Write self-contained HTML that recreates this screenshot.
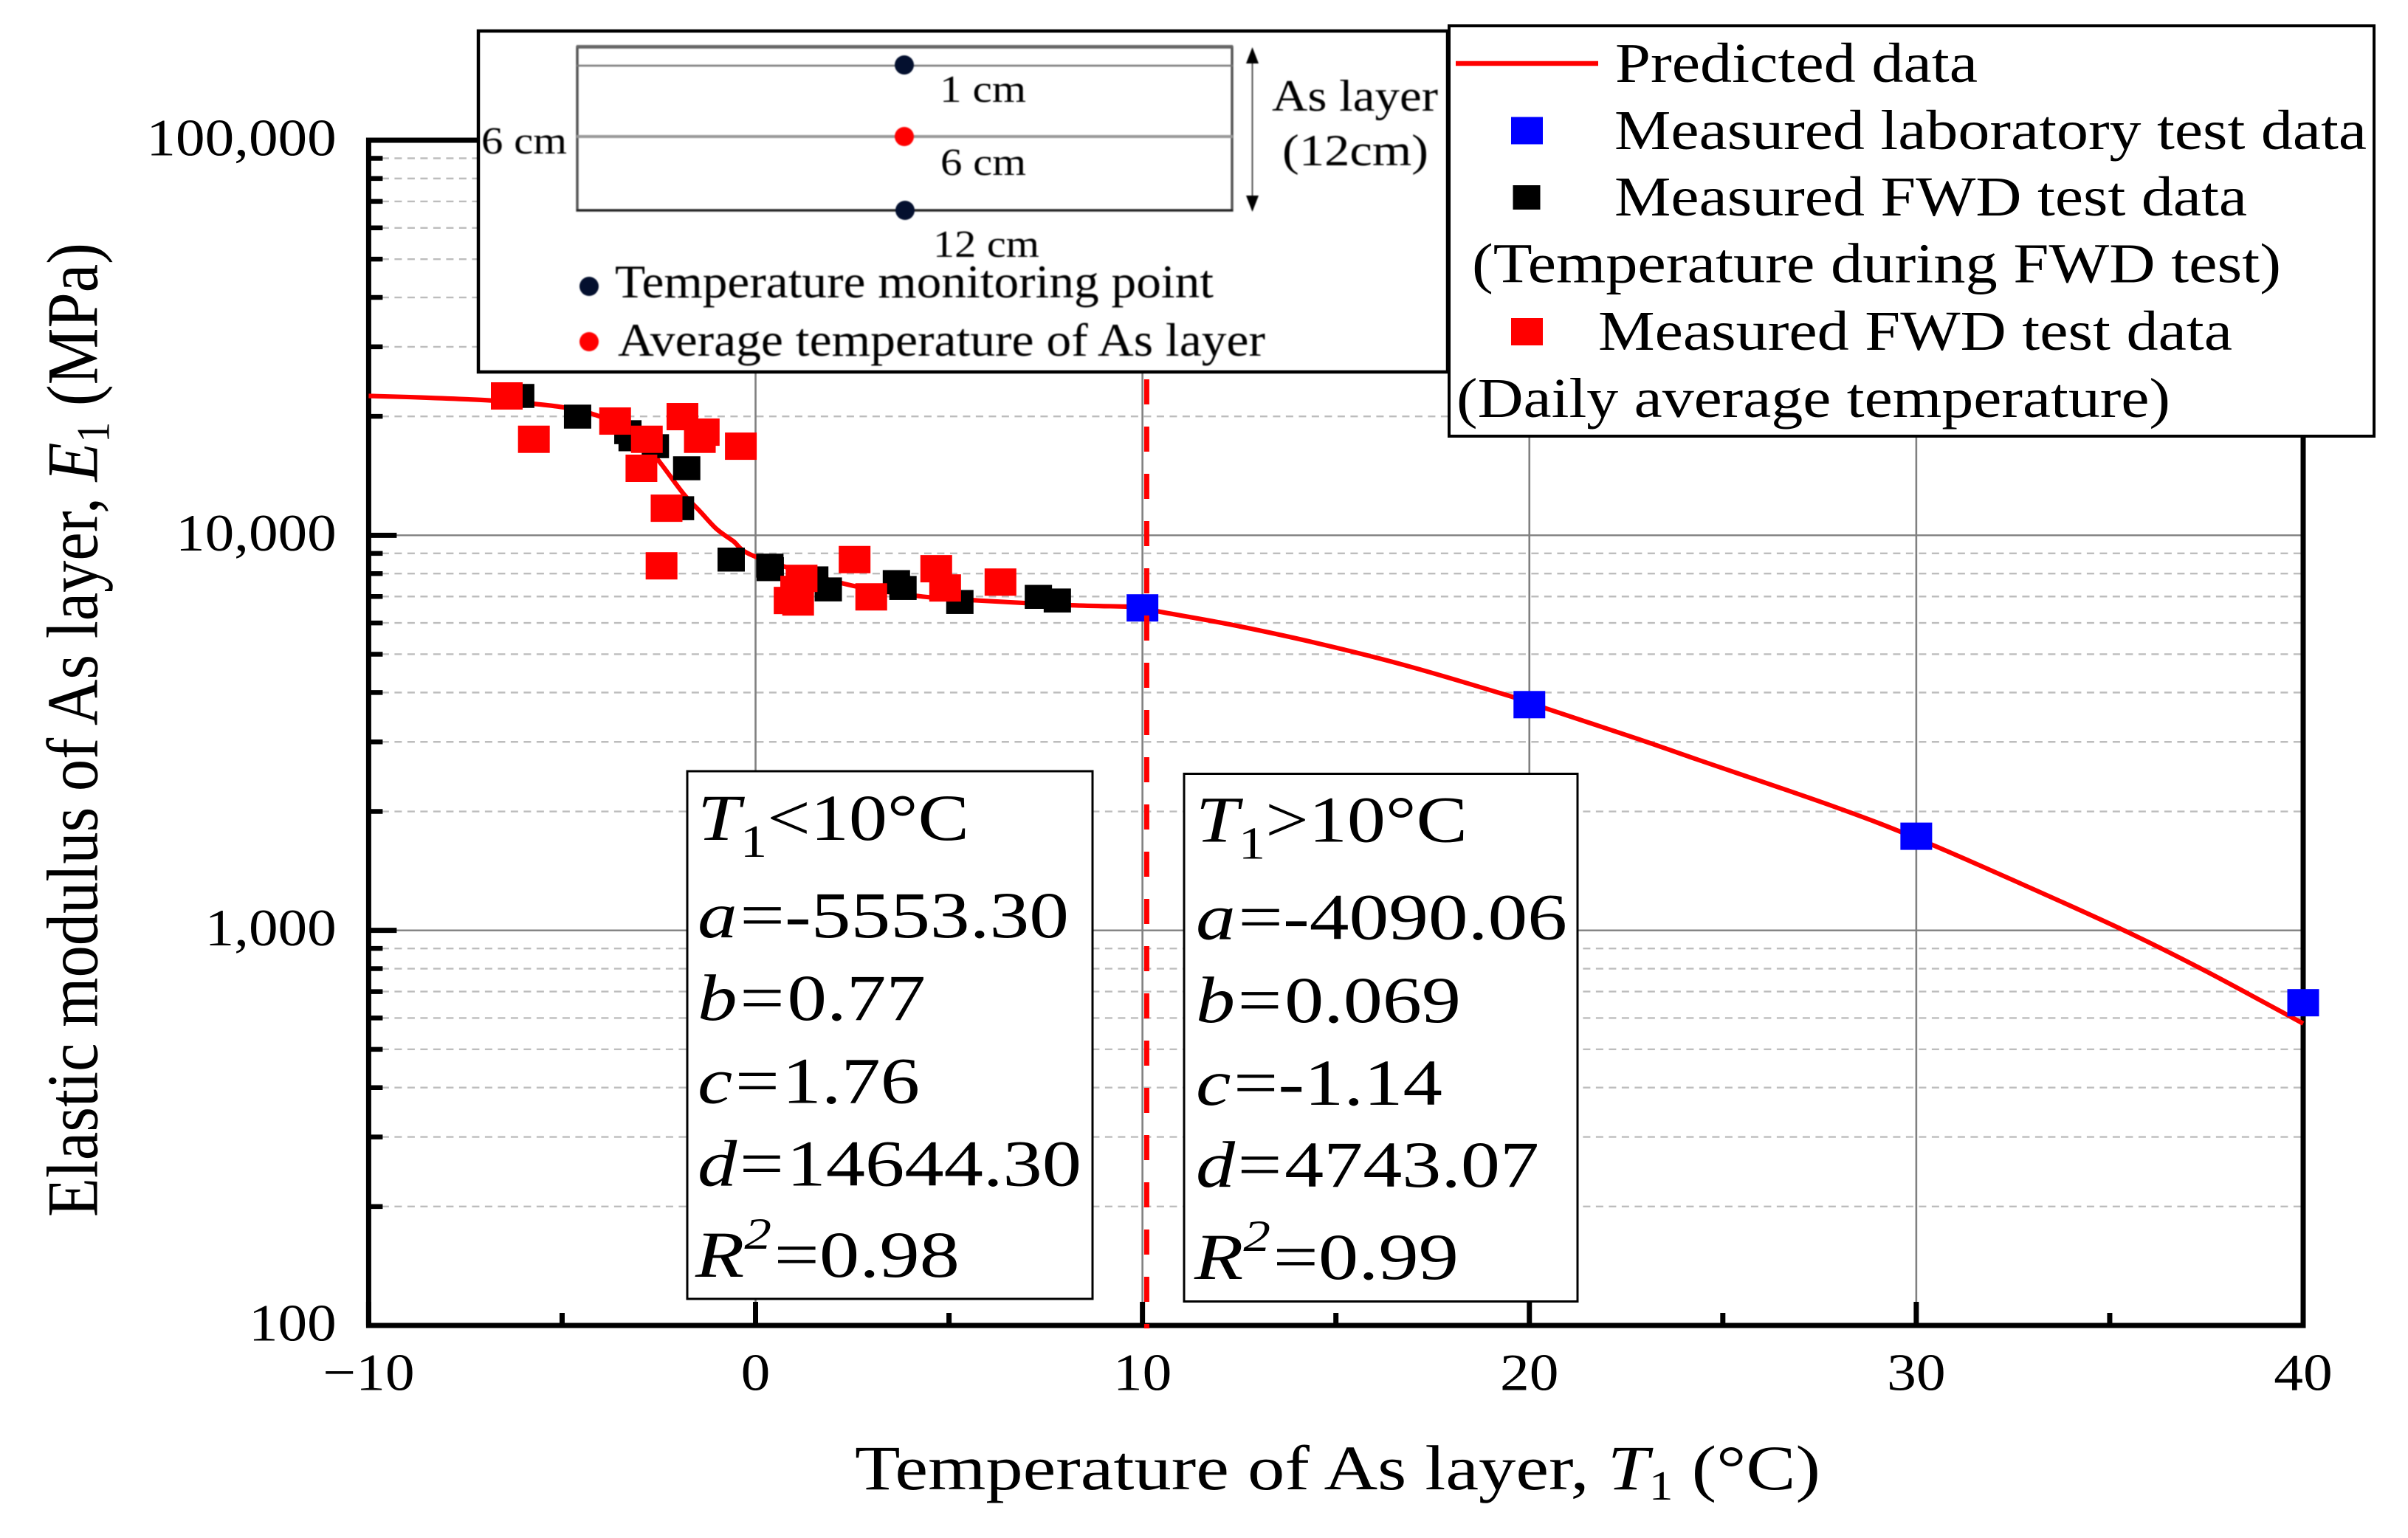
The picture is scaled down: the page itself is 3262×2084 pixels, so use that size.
<!DOCTYPE html>
<html lang="en">
<head>
<meta charset="utf-8">
<title>Elastic modulus of As layer vs temperature</title>
<style>
  html, body { margin: 0; padding: 0; background: #fff; }
  svg { display: block; }
  text { font-family: "Liberation Serif", "Times New Roman", serif; fill: #000; }
</style>
</head>
<body>
<svg id="chart" xmlns="http://www.w3.org/2000/svg" width="3262" height="2084" viewBox="0 0 3262 2084">
  <rect x="0" y="0" width="3262" height="2084" fill="#fff"/>
  <g id="grid-layer"></g>
  <g id="series-layer"></g>
  <g id="axes-layer"></g>

  <text transform="translate(131.7,1649) rotate(-90) scale(1,1.13)" font-size="87" textLength="1320" lengthAdjust="spacingAndGlyphs">Elastic modulus of As layer, <tspan font-style="italic">E</tspan><tspan font-size="56" dy="14">1</tspan><tspan dy="-14"> (MPa)</tspan></text>
  <text x="1158" y="2018" font-size="86" textLength="1308" lengthAdjust="spacingAndGlyphs">Temperature of As layer, <tspan font-style="italic">T</tspan><tspan font-size="56" dy="14">1</tspan><tspan dy="-14"> (°C)</tspan></text>

  <g>
    <rect x="648" y="42" width="1313" height="462" fill="#fff" stroke="#000" stroke-width="4.5"/>
    <g style="filter: blur(0.7px)">
      <rect x="782" y="64" width="887" height="221" fill="none" stroke="#555" stroke-width="3.5"/>
      <line x1="781" x2="1670" y1="63" y2="63" stroke="#666" stroke-width="4"/>
      <line x1="781" x2="1670" y1="89" y2="89" stroke="#777" stroke-width="2.5"/>
      <line x1="781" x2="1670" y1="185" y2="185" stroke="#999" stroke-width="4"/>
      <line x1="781" x2="1670" y1="285" y2="285" stroke="#222" stroke-width="3"/>
      <circle cx="1225" cy="88" r="13" fill="#04102f"/>
      <circle cx="1225" cy="185" r="13" fill="#f00"/>
      <circle cx="1226" cy="285" r="13" fill="#04102f"/>
      <line x1="1696.5" x2="1696.5" y1="70" y2="282" stroke="#555" stroke-width="2"/>
      <path d="M1696.5 64 L1688 86 L1705 86 Z" fill="#000"/>
      <path d="M1696.5 287 L1688 265 L1705 265 Z" fill="#000"/>
      <text x="1273" y="138" font-size="52" textLength="117" lengthAdjust="spacingAndGlyphs">1 cm</text>
      <text x="1274" y="237" font-size="52" textLength="116" lengthAdjust="spacingAndGlyphs">6 cm</text>
      <text x="1264" y="348" font-size="52" textLength="144" lengthAdjust="spacingAndGlyphs">12 cm</text>
      <text x="652" y="208" font-size="52" textLength="116" lengthAdjust="spacingAndGlyphs">6 cm</text>
      <text x="1723" y="150" font-size="60" textLength="225" lengthAdjust="spacingAndGlyphs">As layer</text>
      <text x="1737" y="224" font-size="60" textLength="198" lengthAdjust="spacingAndGlyphs">(12cm)</text>
      <circle cx="798" cy="388" r="13" fill="#04102f"/>
      <text x="833" y="403" font-size="63" textLength="811" lengthAdjust="spacingAndGlyphs">Temperature monitoring point</text>
      <circle cx="798" cy="463" r="13" fill="#f00"/>
      <text x="837" y="482" font-size="63" textLength="877" lengthAdjust="spacingAndGlyphs">Average temperature of As layer</text>
    </g>
  </g>

  <g>
    <rect x="1963" y="35" width="1253" height="556" fill="#fff" stroke="#000" stroke-width="4"/>
    <line x1="1972" x2="2165" y1="86" y2="86" stroke="#f00" stroke-width="6.5"/>
    <text x="2188" y="111" font-size="76" textLength="491" lengthAdjust="spacingAndGlyphs">Predicted data</text>
    <rect x="2047" y="158.5" width="43" height="37" fill="#00f"/>
    <text x="2187" y="202" font-size="76" textLength="1019" lengthAdjust="spacingAndGlyphs">Measured laboratory test data</text>
    <rect x="2049.5" y="251" width="37" height="33" fill="#000"/>
    <text x="2187" y="292" font-size="76" textLength="857" lengthAdjust="spacingAndGlyphs">Measured FWD test data</text>
    <text x="1994" y="382.6" font-size="76" textLength="1096" lengthAdjust="spacingAndGlyphs">(Temperature during FWD test)</text>
    <rect x="2047" y="431" width="43" height="37" fill="#f00"/>
    <text x="2165" y="474" font-size="76" textLength="859" lengthAdjust="spacingAndGlyphs">Measured FWD test data</text>
    <text x="1973" y="565" font-size="76" textLength="967" lengthAdjust="spacingAndGlyphs">(Daily average temperature)</text>
  </g>

  <g font-size="89">
    <rect x="931" y="1045" width="549" height="715" fill="#fff" stroke="#000" stroke-width="3"/>
    <text x="945" y="1138" textLength="368" lengthAdjust="spacingAndGlyphs"><tspan font-style="italic">T</tspan><tspan font-size="62" dy="23">1</tspan><tspan dy="-23">&lt;10°C</tspan></text>
    <text x="945" y="1270" textLength="503" lengthAdjust="spacingAndGlyphs"><tspan font-style="italic">a</tspan><tspan dx="3">=</tspan>-5553.30</text>
    <text x="945" y="1382" textLength="309" lengthAdjust="spacingAndGlyphs"><tspan font-style="italic">b</tspan><tspan dx="3">=</tspan><tspan dx="3">0.77</tspan></text>
    <text x="945" y="1494.5" textLength="301" lengthAdjust="spacingAndGlyphs"><tspan font-style="italic">c</tspan><tspan dx="3">=</tspan><tspan dx="3">1.76</tspan></text>
    <text x="945" y="1606.7" textLength="520" lengthAdjust="spacingAndGlyphs"><tspan font-style="italic">d</tspan><tspan dx="3">=</tspan><tspan dx="3">14644.30</tspan></text>
    <text x="942" y="1730" textLength="358" lengthAdjust="spacingAndGlyphs"><tspan font-style="italic">R</tspan><tspan font-style="italic" font-size="60" dy="-38">2</tspan><tspan dy="38" dx="3">=0.98</tspan></text>
  </g>

  <g font-size="89">
    <rect x="1604" y="1048.5" width="533" height="715" fill="#fff" stroke="#000" stroke-width="3"/>
    <text x="1620" y="1140.4" textLength="368" lengthAdjust="spacingAndGlyphs"><tspan font-style="italic">T</tspan><tspan font-size="62" dy="23">1</tspan><tspan dy="-23">&gt;10°C</tspan></text>
    <text x="1620" y="1272.5" textLength="503" lengthAdjust="spacingAndGlyphs"><tspan font-style="italic">a</tspan><tspan dx="3">=</tspan>-4090.06</text>
    <text x="1620" y="1385" textLength="359" lengthAdjust="spacingAndGlyphs"><tspan font-style="italic">b</tspan><tspan dx="3">=</tspan><tspan dx="3">0.069</tspan></text>
    <text x="1620" y="1497" textLength="334" lengthAdjust="spacingAndGlyphs"><tspan font-style="italic">c</tspan><tspan dx="3">=</tspan>-1.14</text>
    <text x="1620" y="1608" textLength="465" lengthAdjust="spacingAndGlyphs"><tspan font-style="italic">d</tspan><tspan dx="3">=</tspan><tspan dx="3">4743.07</tspan></text>
    <text x="1618" y="1732.8" textLength="358" lengthAdjust="spacingAndGlyphs"><tspan font-style="italic">R</tspan><tspan font-style="italic" font-size="60" dy="-38">2</tspan><tspan dy="38" dx="3">=0.99</tspan></text>
  </g>
</svg>

<script>
// ---- chart data (temperature in °C, modulus in MPa) ----
const xTickValues = [-10, 0, 10, 20, 30, 40];
const xTickLabels = ["\u221210", "0", "10", "20", "30", "40"];
const xMinorTickValues = [-5, 5, 15, 25, 35];
const yTickValues = [100, 1000, 10000, 100000];
const yTickLabels = ["100", "1,000", "10,000", "100,000"];
const yMinorMultipliers = [2, 3, 4, 5, 6, 7, 8, 9];
const yMinorDecades = [100, 1000, 10000];

const predictedT = [-10, -8.63, -6.84, -5.67, -4.82, -4.12, -3.41, -2.85, -2.43, -1.86, -1.44, -1.01, -0.59, 0, 2.30, 4.21, 5.76, 8.16, 10, 10.41, 12.26, 14.48, 16.88, 19.57, 20, 22.8, 24.36, 27.85, 30, 32.44, 35.37, 37.52, 40];
const predictedE = [22530, 22330, 21950, 21490, 20970, 20140, 18750, 16960, 15110, 12730, 11510, 10380, 9690, 8830, 7537, 7017, 6839, 6653, 6577, 6418, 5948, 5342, 4662, 3897, 3765, 3053, 2703, 2061, 1712, 1348, 1000, 785, 581];

const labT = [10, 20, 30, 40];
const labE = [6550, 3727, 1731, 656];

const fwdTestT = [-6.07, -4.60, -3.30, -3.19, -2.59, -1.78, -1.94, -0.63, 0.37, 0.38, 1.53, 1.88, 3.64, 3.81, 5.28, 7.31, 7.80];
const fwdTestE = [22530, 19970, 18240, 17500, 16810, 14780, 11710, 8680, 8380, 8210, 7780, 7295, 7613, 7357, 6780, 6985, 6839];

const fwdDailyT = [-6.43, -5.73, -3.63, -2.81, -2.95, -1.89, -1.34, -1.44, -0.38, -2.30, -2.43, 1.19, 1.05, 0.88, 1.10, 2.56, 2.99, 4.67, 4.90, 6.33];
const fwdDailyE = [22530, 17500, 19460, 17500, 14780, 19970, 18240, 17500, 16810, 11710, 8370, 7780, 7295, 6839, 6780, 8680, 6985, 8230, 7357, 7613];

const boundaryT = [10.11];

// ---- axis functions ----
const SVG_NS = "http://www.w3.org/2000/svg";
const plotLeft = 499.4, plotRight = 3120, plotTop = 190, plotBottom = 1796;
function xScale(t) { return plotLeft + (t + 10) / 50 * (plotRight - plotLeft); }
function yScale(e) { return plotBottom - (Math.log10(e) - 2) / 3 * (plotBottom - plotTop); }
function make(tag, attrs) {
  const el = document.createElementNS(SVG_NS, tag);
  for (const k in attrs) el.setAttribute(k, attrs[k]);
  return el;
}
function smoothPath(ts, es) {
  const p = ts.map(function (t, i) { return [xScale(t), yScale(es[i])]; });
  let d = "M" + p[0][0].toFixed(1) + " " + p[0][1].toFixed(1);
  for (let i = 0; i < p.length - 1; i++) {
    const a = p[Math.max(i - 1, 0)], b = p[i], c = p[i + 1], e = p[Math.min(i + 2, p.length - 1)];
    const c1x = b[0] + (c[0] - a[0]) / 6, c1y = b[1] + (c[1] - a[1]) / 6;
    const c2x = c[0] - (e[0] - b[0]) / 6, c2y = c[1] - (e[1] - b[1]) / 6;
    d += " C" + c1x.toFixed(1) + " " + c1y.toFixed(1) + " " + c2x.toFixed(1) + " " + c2y.toFixed(1) + " " + c[0].toFixed(1) + " " + c[1].toFixed(1);
  }
  return d;
}
const gridLayer = document.getElementById("grid-layer");
const seriesLayer = document.getElementById("series-layer");
const axesLayer = document.getElementById("axes-layer");

// ---- grid ----
yMinorDecades.forEach(function (decade) {
  yMinorMultipliers.forEach(function (m) {
    const y = yScale(decade * m);
    const el = make("line", { x1: plotLeft, x2: plotRight, y1: y, y2: y, stroke: "#bdbdbd", "stroke-width": 2.4, "stroke-dasharray": "10 7.5" });
    
    
    gridLayer.appendChild(el);
    const tick = make("line", { x1: plotLeft, x2: plotLeft + 19, y1: y, y2: y, stroke: "#000", "stroke-width": 6.5 });
    
    
    axesLayer.appendChild(tick);
  });
});
yTickValues.forEach(function (v, i) {
  const y = yScale(v);
  if (v > 100 && v < 100000) {
    const el = make("line", { x1: plotLeft, x2: plotRight, y1: y, y2: y, stroke: "#808080", "stroke-width": 2.4 });
    
    
    gridLayer.appendChild(el);
  }
  const tick = make("line", { x1: plotLeft, x2: plotLeft + 38, y1: y, y2: y, stroke: "#000", "stroke-width": 7 });
  
  
  axesLayer.appendChild(tick);
  const label = make("text", { transform: "translate(455.7," + (y + 20.5) + ") scale(1.115,1)", "text-anchor": "end", "font-size": 71 });
  
  
  label.textContent = yTickLabels[i];
  axesLayer.appendChild(label);
});
xTickValues.forEach(function (v, i) {
  const x = xScale(v);
  if (v > -10 && v < 40) {
    const el = make("line", { x1: x, x2: x, y1: plotTop, y2: plotBottom, stroke: "#808080", "stroke-width": 2.6 });
    
    
    gridLayer.appendChild(el);
  }
  const tick = make("line", { x1: x, x2: x, y1: plotBottom - 32, y2: plotBottom, stroke: "#000", "stroke-width": 7 });
  
  
  axesLayer.appendChild(tick);
  const label = make("text", { transform: "translate(" + x + ",1883.5) scale(1.12,1)", "text-anchor": "middle", "font-size": 71 });
  
  
  label.textContent = xTickLabels[i];
  axesLayer.appendChild(label);
});
xMinorTickValues.forEach(function (v) {
  const x = xScale(v);
  const tick = make("line", { x1: x, x2: x, y1: plotBottom - 17, y2: plotBottom, stroke: "#000", "stroke-width": 7 });
  
  
  axesLayer.appendChild(tick);
});

// ---- axis frame ----
const frame = make("path", { d: "M" + plotLeft + " " + plotBottom + " V" + plotTop + " H" + plotRight + " V" + plotBottom + " Z", fill: "none", stroke: "#000", "stroke-width": 7, "stroke-linecap": "square" });


axesLayer.appendChild(frame);
// axes sit above grid but below the series
seriesLayer.parentNode.insertBefore(axesLayer, seriesLayer);

// ---- series ----
const curve = make("path", {
  d: smoothPath(predictedT, predictedE),
  fill: "none", stroke: "#f00", "stroke-width": 6.2, "stroke-linejoin": "round"
});


seriesLayer.appendChild(curve);

function drawSquare(t, e, w, h, color) {
  return make("rect", { x: xScale(t) - w / 2, y: yScale(e) - h / 2, width: w, height: h, fill: color });
}
fwdTestT.forEach(function (t, i) {
  const el = drawSquare(t, fwdTestE[i], 37, 32.5, "#000");
  
  
  seriesLayer.appendChild(el);
});
fwdDailyT.forEach(function (t, i) {
  const el = drawSquare(t, fwdDailyE[i], 43, 37, "#f00");
  
  
  seriesLayer.appendChild(el);
});
labT.forEach(function (t, i) {
  const el = drawSquare(t, labE[i], 43, 37, "#00f");
  
  
  seriesLayer.appendChild(el);
});
boundaryT.forEach(function (t) {
  const x = xScale(t);
  const el = make("line", { x1: x, x2: x, y1: 450, y2: 1800, stroke: "#f00", "stroke-width": 7, "stroke-dasharray": "34 30" });
  
  
  seriesLayer.appendChild(el);
});
</script>
</body>
</html>
